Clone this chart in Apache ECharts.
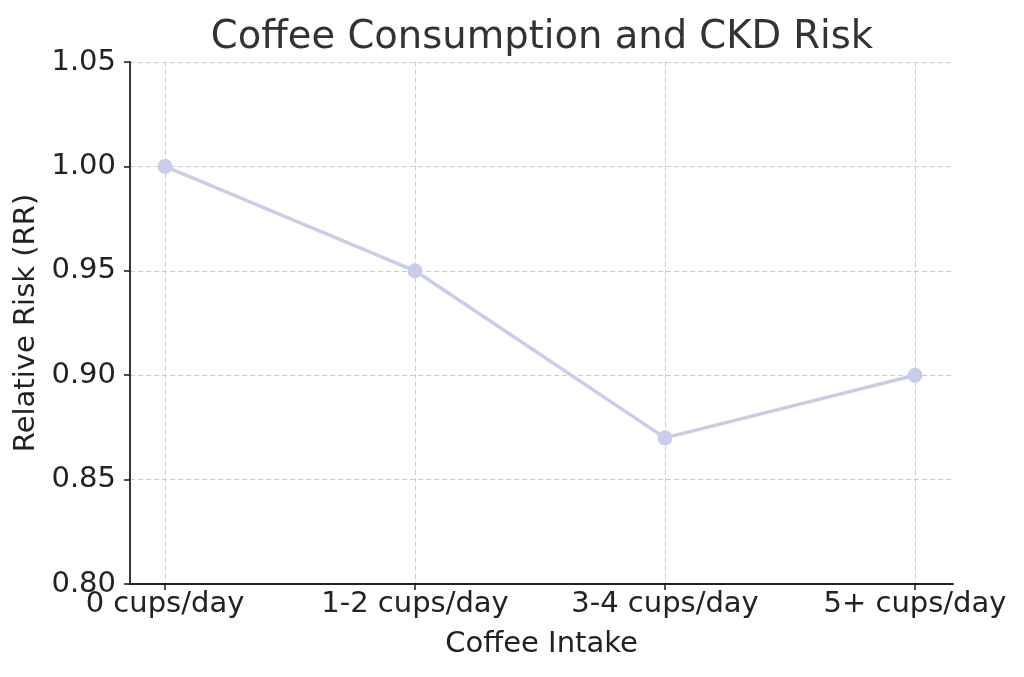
<!DOCTYPE html>
<html>
<head>
<meta charset="utf-8">
<script src="https://cdn.jsdelivr.net/npm/echarts@6/dist/echarts.min.js"></script>
<style>html,body{margin:0;padding:0;background:#fff}#c{width:1024px;height:677px}</style>
</head>
<body>
<div id="c"></div>
<script>
const categories = ['0 cups/day', '1-2 cups/day', '3-4 cups/day', '5+ cups/day'];
const relativeRisk = [1.00, 0.95, 0.87, 0.90];
const yTicks = [0.80, 0.85, 0.90, 0.95, 1.00, 1.05];

const FONT = 'DejaVu Sans';
const chart = echarts.init(document.getElementById('c'), null, {renderer: 'canvas'});
const catIdx = categories.map((_, i) => i);
chart.setOption({
  animation: false,
  backgroundColor: '#fff',
  title: {
    text: 'Coffee Consumption and CKD Risk',
    left: 537, top: 13, textAlign: 'center',
    textStyle: {fontFamily: FONT, fontSize: 38.5, fontWeight: 'normal', color: '#333'}
  },
  grid: {left: 130, right: 71, top: 62, bottom: 93, containLabel: false},
  xAxis: {
    type: 'value',
    min: -0.14, max: 3.152,
    name: 'Coffee Intake', nameLocation: 'middle', nameGap: 46,
    nameTextStyle: {fontFamily: FONT, fontSize: 29, color: '#222'},
    axisLine: {show: true, onZero: false, lineStyle: {color: '#222', width: 1.8}},
    axisTick: {show: true, inside: false, length: 6, customValues: catIdx, lineStyle: {color: '#222', width: 1.6}},
    axisLabel: {
      customValues: catIdx, margin: 6,
      fontFamily: FONT, fontSize: 29, color: '#222',
      formatter: v => categories[Math.round(v)] || ''
    },
    splitLine: {show: true, lineStyle: {color: '#cccccc', type: [5, 3], width: 1}}
  },
  yAxis: {
    type: 'value',
    min: 0.80, max: 1.05, interval: 0.05,
    name: 'Relative Risk (RR)', nameLocation: 'middle', nameGap: 86, nameRotate: 90,
    nameTextStyle: {fontFamily: FONT, fontSize: 29, color: '#222'},
    axisLine: {show: true, onZero: false, lineStyle: {color: '#222', width: 1.8}},
    axisTick: {show: true, inside: false, length: 6, lineStyle: {color: '#222', width: 1.6}},
    axisLabel: {
      margin: 14, fontFamily: FONT, fontSize: 29, color: '#222',
      formatter: v => v.toFixed(2)
    },
    splitLine: {show: true, lineStyle: {color: '#cccccc', type: [5, 3], width: 1}}
  },
  series: [{
    type: 'line',
    data: relativeRisk.map((v, i) => [i, v]),
    symbol: 'circle', symbolSize: 15,
    lineStyle: {color: '#c8cdea', width: 3.5},
    itemStyle: {color: '#c8cdea'},
    z: 5
  }]
});
</script>
</body>
</html>
